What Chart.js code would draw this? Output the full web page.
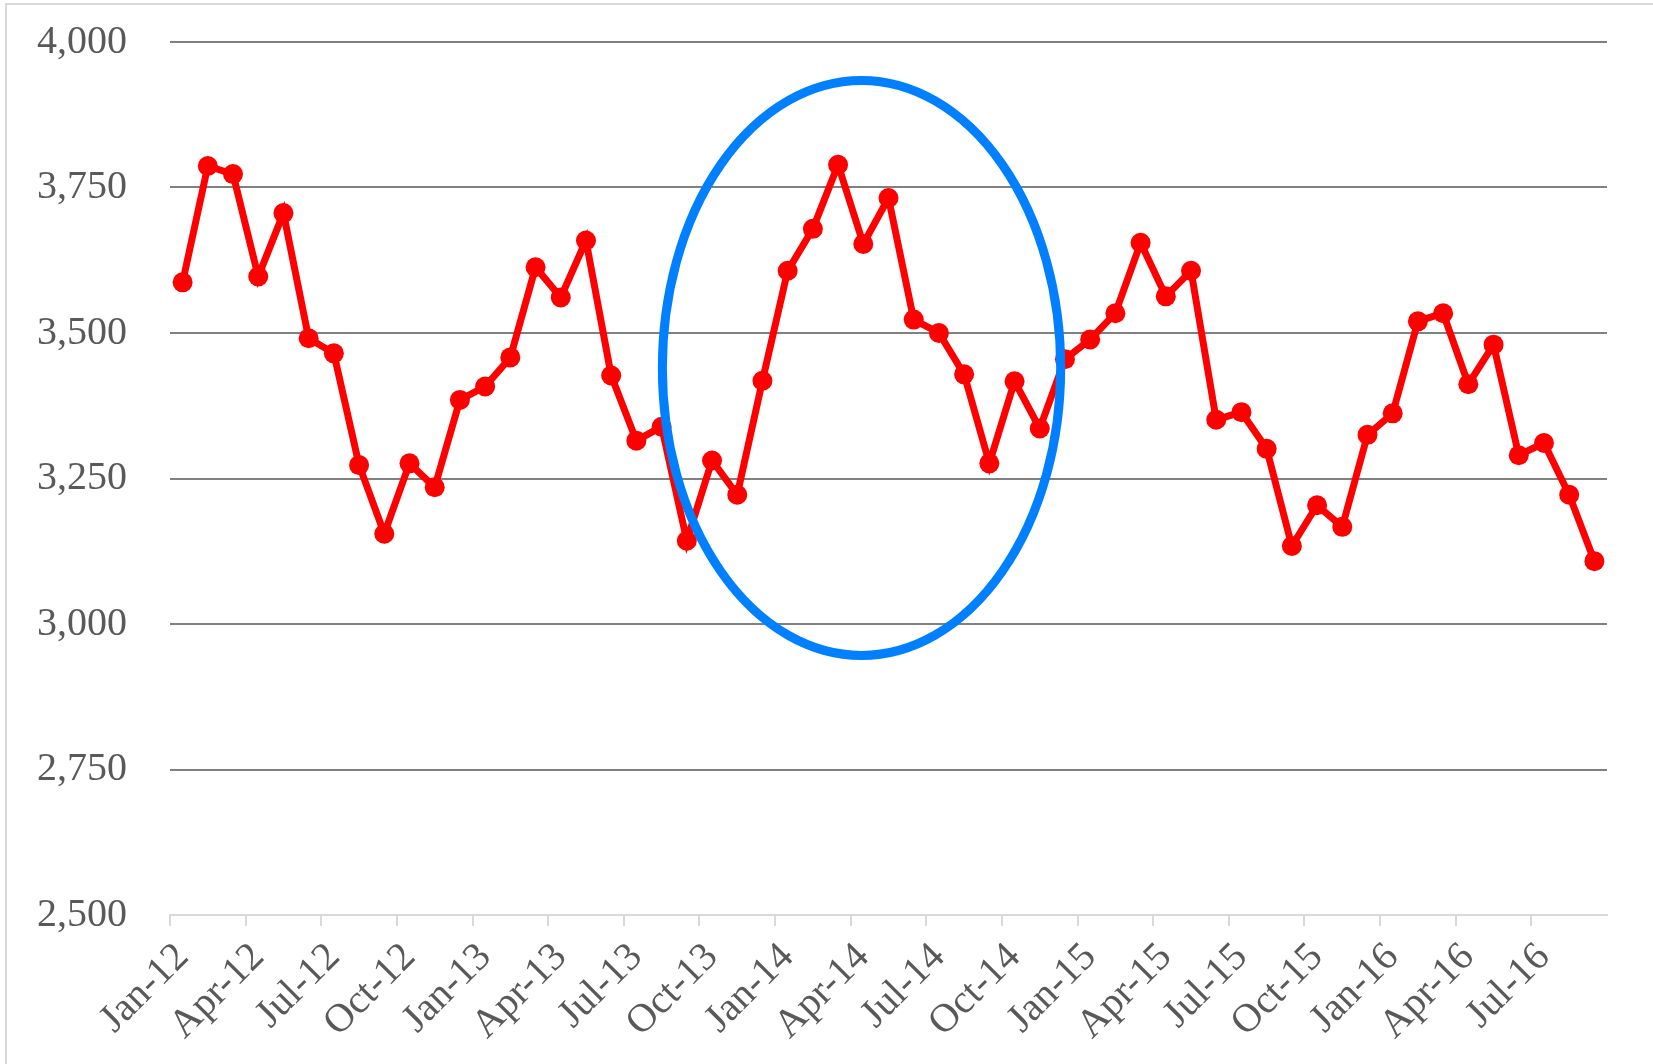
<!DOCTYPE html>
<html>
<head>
<meta charset="utf-8">
<script src="https://cdn.jsdelivr.net/npm/chart.js@4.4.1/dist/chart.umd.min.js"></script>
<style>
  body { margin: 0; background: #fff; }
  #frame { position: absolute; left: 5px; top: 3px; width: 1700px; height: 1100px;
           border-left: 2px solid #d9d9d9; border-top: 2px solid #d9d9d9; }
  #wrap { position: absolute; left: 0; top: 0; width: 1653px; height: 1064px; }
</style>
</head>
<body>
<div id="frame"></div>
<div id="wrap"><canvas id="chart" width="1653" height="1064"></canvas></div>
<script>
// Month labels, Jan-12 .. Sep-16
const months = [
    "Jan-12", "Feb-12", "Mar-12", "Apr-12", "May-12", "Jun-12", "Jul-12", "Aug-12", "Sep-12", "Oct-12", "Nov-12", "Dec-12",
    "Jan-13", "Feb-13", "Mar-13", "Apr-13", "May-13", "Jun-13", "Jul-13", "Aug-13", "Sep-13", "Oct-13", "Nov-13", "Dec-13",
    "Jan-14", "Feb-14", "Mar-14", "Apr-14", "May-14", "Jun-14", "Jul-14", "Aug-14", "Sep-14", "Oct-14", "Nov-14", "Dec-14",
    "Jan-15", "Feb-15", "Mar-15", "Apr-15", "May-15", "Jun-15", "Jul-15", "Aug-15", "Sep-15", "Oct-15", "Nov-15", "Dec-15",
    "Jan-16", "Feb-16", "Mar-16", "Apr-16", "May-16", "Jun-16", "Jul-16", "Aug-16", "Sep-16"
];

// Monthly values
const values = [
    3587, 3787, 3773, 3597, 3706, 3491, 3465, 3273, 3155, 3276, 3235, 3385,
    3408, 3458, 3613, 3561, 3659, 3427, 3315, 3339, 3143, 3281, 3222, 3418,
    3607, 3679, 3789, 3653, 3732, 3523, 3500, 3429, 3276, 3417, 3336, 3455,
    3489, 3534, 3655, 3563, 3607, 3351, 3364, 3301, 3134, 3204, 3167, 3325,
    3362, 3520, 3534, 3412, 3480, 3290, 3311, 3222, 3108
];

// Y axis range and step
const yMin = 2500;
const yMax = 4000;
const yStep = 250;

// Highlight ellipse, in data units (category index / value)
const highlight = { center: 26.93, value: 3440, halfMonths: 7.9, halfValue: 494 };

const textColor = "#595959";
const font = { family: "'Liberation Serif', 'DejaVu Serif', serif", size: 40 };

// Draws the blue ellipse on top of the line
const ellipsePlugin = {
    id: "ellipse",
    afterDatasetsDraw(chart) {
        const xs = chart.scales.x;
        const ys = chart.scales.y;
        const cx = xs.getPixelForValue(highlight.center);
        const cy = ys.getPixelForValue(highlight.value);
        const rx = xs.getPixelForValue(highlight.center + highlight.halfMonths) - cx;
        const ry = cy - ys.getPixelForValue(highlight.value + highlight.halfValue);
        const c = chart.ctx;
        c.save();
        c.beginPath();
        c.ellipse(cx, cy, rx, ry, 0, 0, Math.PI * 2);
        c.strokeStyle = "#0080ff";
        c.lineWidth = 9;
        c.stroke();
        c.restore();
    }
};

const ctx = document.getElementById("chart").getContext("2d");

const chart = new Chart(ctx, {
    type: "line",
    data: {
        labels: months,
        datasets: [{
            data: values,
            borderColor: "#ff0000",
            backgroundColor: "#ff0000",
            borderWidth: 7,
            pointRadius: 10,
            pointBorderWidth: 0,
            pointBackgroundColor: "#ff0000",
            tension: 0,
            clip: false
        }]
    },
    options: {
        responsive: false,
        animation: false,
        layout: { padding: { top: 42, right: 46, left: 37, bottom: 0 } },
        plugins: {
            legend: { display: false },
            tooltip: { enabled: false }
        },
        scales: {
            x: {
                offset: true,
                afterFit(scale) { scale.height = 149; },
                grid: {
                    offset: true,
                    drawOnChartArea: false,
                    drawTicks: true,
                    tickLength: 11,
                    lineWidth: 2,
                    color: c => (c.index % 3 === 0 ? "#d9d9d9" : "rgba(0,0,0,0)")
                },
                border: { display: true, color: "#d9d9d9", width: 2 },
                ticks: {
                    autoSkip: false,
                    maxRotation: 45,
                    minRotation: 45,
                    padding: 8,
                    color: textColor,
                    font: font,
                    callback: (val, i) => (i % 3 === 0 ? months[i] : "")
                }
            },
            y: {
                min: yMin,
                max: yMax,
                afterFit(scale) { scale.width = 133; },
                grid: {
                    drawTicks: false,
                    lineWidth: 2,
                    color: c => (c.tick && c.tick.value === yMin ? "rgba(0,0,0,0)" : "#808080")
                },
                border: { display: false },
                ticks: {
                    stepSize: yStep,
                    padding: 4,
                    crossAlign: "far",
                    color: textColor,
                    font: font,
                    callback: v => v.toLocaleString("en-US")
                }
            }
        }
    },
    plugins: [ellipsePlugin]
});
</script>
</body>
</html>
